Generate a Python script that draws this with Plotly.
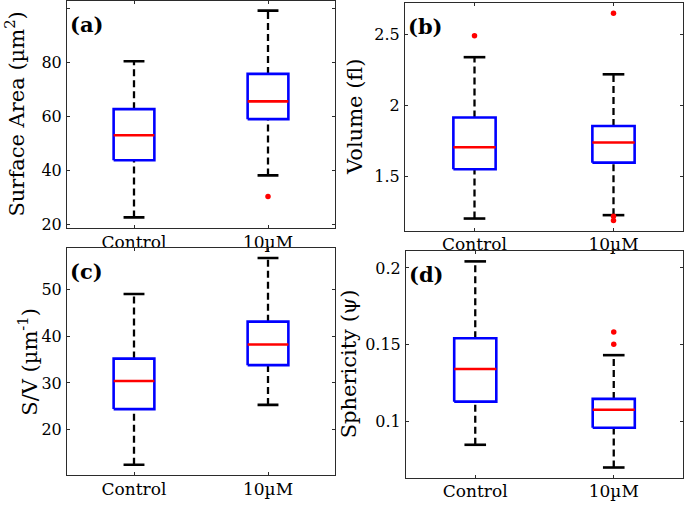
import plotly.graph_objects as go

# ---------------- data ----------------
categories = ["Control", "10µM"]
positions = [1, 2]

# each list is [Control, 10µM]
sa_low = [22.5, 38.1]
sa_q1 = [43.7, 59.0]
sa_med = [53.0, 65.6]
sa_q3 = [62.7, 75.8]
sa_high = [80.5, 99.3]
sa_out = [[], [30.3]]

vol_low = [1.201, 1.225]
vol_q1 = [1.549, 1.596]
vol_med = [1.705, 1.738]
vol_q3 = [1.915, 1.855]
vol_high = [2.341, 2.220]
vol_out = [[2.493], [2.652, 1.218, 1.187]]

sv_low = [12.5, 25.3]
sv_q1 = [24.4, 33.8]
sv_med = [30.4, 38.2]
sv_q3 = [35.2, 43.1]
sv_high = [49.0, 56.7]
sv_out = [[], []]

sph_low = [0.0848, 0.0700]
sph_q1 = [0.1129, 0.0959]
sph_med = [0.1342, 0.1076]
sph_q3 = [0.1542, 0.1147]
sph_high = [0.2043, 0.1432]
sph_out = [[], [0.1583, 0.1503]]

panels = [
    dict(stats=(sa_low, sa_q1, sa_med, sa_q3, sa_high, sa_out), label="(a)",
         title="Surface Area (µm<sup>2</sup>)", tickvals=[20, 40, 60, 80, 100],
         ticktext=["20", "40", "60", "80", "100"], yrange=[18.4, 103.0]),
    dict(stats=(vol_low, vol_q1, vol_med, vol_q3, vol_high, vol_out), label="(b)",
         title="Volume (fl)", tickvals=[1.5, 2.0, 2.5],
         ticktext=["1.5", "2", "2.5"], yrange=[1.113, 2.724]),
    dict(stats=(sv_low, sv_q1, sv_med, sv_q3, sv_high, sv_out), label="(c)",
         title="S/V (µm<sup>-1</sup>)", tickvals=[20, 30, 40, 50],
         ticktext=["20", "30", "40", "50"], yrange=[10.26, 58.8]),
    dict(stats=(sph_low, sph_q1, sph_med, sph_q3, sph_high, sph_out), label="(d)",
         title="Sphericity (ψ)", tickvals=[0.1, 0.15, 0.2],
         ticktext=["0.1", "0.15", "0.2"], yrange=[0.0632, 0.2112]),
]

# ---------------- layout geometry (pixels in a 685x506 page) ----------------
W, H = 685, 506
boxes_px = [  # x0, x1, ytop, ybottom
    (67, 335, 0.7, 230.7),
    (405, 683, 3.0, 233.3),
    (67, 335, 250.7, 480.0),
    (406, 683, 253.3, 482.7),
]
title_x_px = [15, 355, 28, 349]

FONT = "DejaVu Serif"
BLUE = "#0000ff"
RED = "#ff0000"
BLACK = "#000000"
half_box = 0.152
half_cap = 0.078

fig = go.Figure()
layout = dict(
    width=W, height=H, margin=dict(l=0, r=0, t=0, b=0),
    paper_bgcolor="white", plot_bgcolor="white", showlegend=False,
    font=dict(family=FONT, color=BLACK),
)
annotations = []

for i, p in enumerate(panels):
    n = "" if i == 0 else str(i + 1)
    xa, ya = "x" + n, "y" + n
    low, q1, med, q3, high, outs = p["stats"]
    for k, pos in enumerate(positions):
        # whiskers (dashed)
        fig.add_trace(go.Scatter(x=[pos, pos], y=[q3[k], high[k]], mode="lines",
                                 line=dict(color=BLACK, width=2.3, dash="7px,4px"),
                                 xaxis=xa, yaxis=ya, hoverinfo="skip"))
        fig.add_trace(go.Scatter(x=[pos, pos], y=[low[k], q1[k]], mode="lines",
                                 line=dict(color=BLACK, width=2.3, dash="7px,4px"),
                                 xaxis=xa, yaxis=ya, hoverinfo="skip"))
        # caps
        for v in (low[k], high[k]):
            fig.add_trace(go.Scatter(x=[pos - half_cap, pos + half_cap], y=[v, v], mode="lines",
                                     line=dict(color=BLACK, width=2.6),
                                     xaxis=xa, yaxis=ya, hoverinfo="skip"))
        # box
        fig.add_trace(go.Scatter(
            x=[pos - half_box, pos + half_box, pos + half_box, pos - half_box, pos - half_box],
            y=[q1[k], q1[k], q3[k], q3[k], q1[k]], mode="lines",
            line=dict(color=BLUE, width=2.6), xaxis=xa, yaxis=ya, hoverinfo="skip"))
        # median
        fig.add_trace(go.Scatter(x=[pos - half_box, pos + half_box], y=[med[k], med[k]],
                                 mode="lines", line=dict(color=RED, width=2.6),
                                 xaxis=xa, yaxis=ya, hoverinfo="skip"))
        # outliers
        if outs[k]:
            fig.add_trace(go.Scatter(x=[pos] * len(outs[k]), y=outs[k], mode="markers",
                                     marker=dict(color=RED, size=5.5),
                                     xaxis=xa, yaxis=ya, hoverinfo="skip"))

    x0, x1, yt, yb = boxes_px[i]
    common = dict(showline=True, linecolor="#2b2b2b", linewidth=1, mirror="ticks",
                  ticks="inside", ticklen=3, tickcolor="#2b2b2b", showgrid=False,
                  zeroline=False)
    layout["xaxis" + n] = dict(
        common, domain=[x0 / W, x1 / W], range=[0.5, 2.5], tickvals=positions,
        ticktext=categories, tickfont=dict(family=FONT, size=17, color=BLACK),
        anchor=ya, ticklabelstandoff=-2)
    layout["yaxis" + n] = dict(
        common, domain=[1 - yb / H, 1 - yt / H], range=p["yrange"],
        tickvals=p["tickvals"], ticktext=p["ticktext"],
        tickfont=dict(family=FONT, size=16, color=BLACK), anchor=xa,
        ticklabelstandoff=1)
    # panel label
    annotations.append(dict(text="<b>" + p["label"] + "</b>", xref=xa + " domain",
                            yref=ya + " domain", x=0, y=1, xanchor="left", yanchor="top",
                            xshift=1, yshift=-9, showarrow=False,
                            font=dict(family=FONT, size=21, color=BLACK)))
    # y axis title
    annotations.append(dict(text=p["title"], xref="paper", yref="paper",
                            x=title_x_px[i] / W, y=1 - (yt + yb) / 2 / H,
                            xanchor="center", yanchor="middle", textangle=-90,
                            showarrow=False, font=dict(family=FONT, size=21, color=BLACK)))

layout["annotations"] = annotations
fig.update_layout(**layout)
fig.write_html("out.html", config={"displayModeBar": False},
               post_script="document.body.style.margin='0';document.body.style.overflow='hidden';")
